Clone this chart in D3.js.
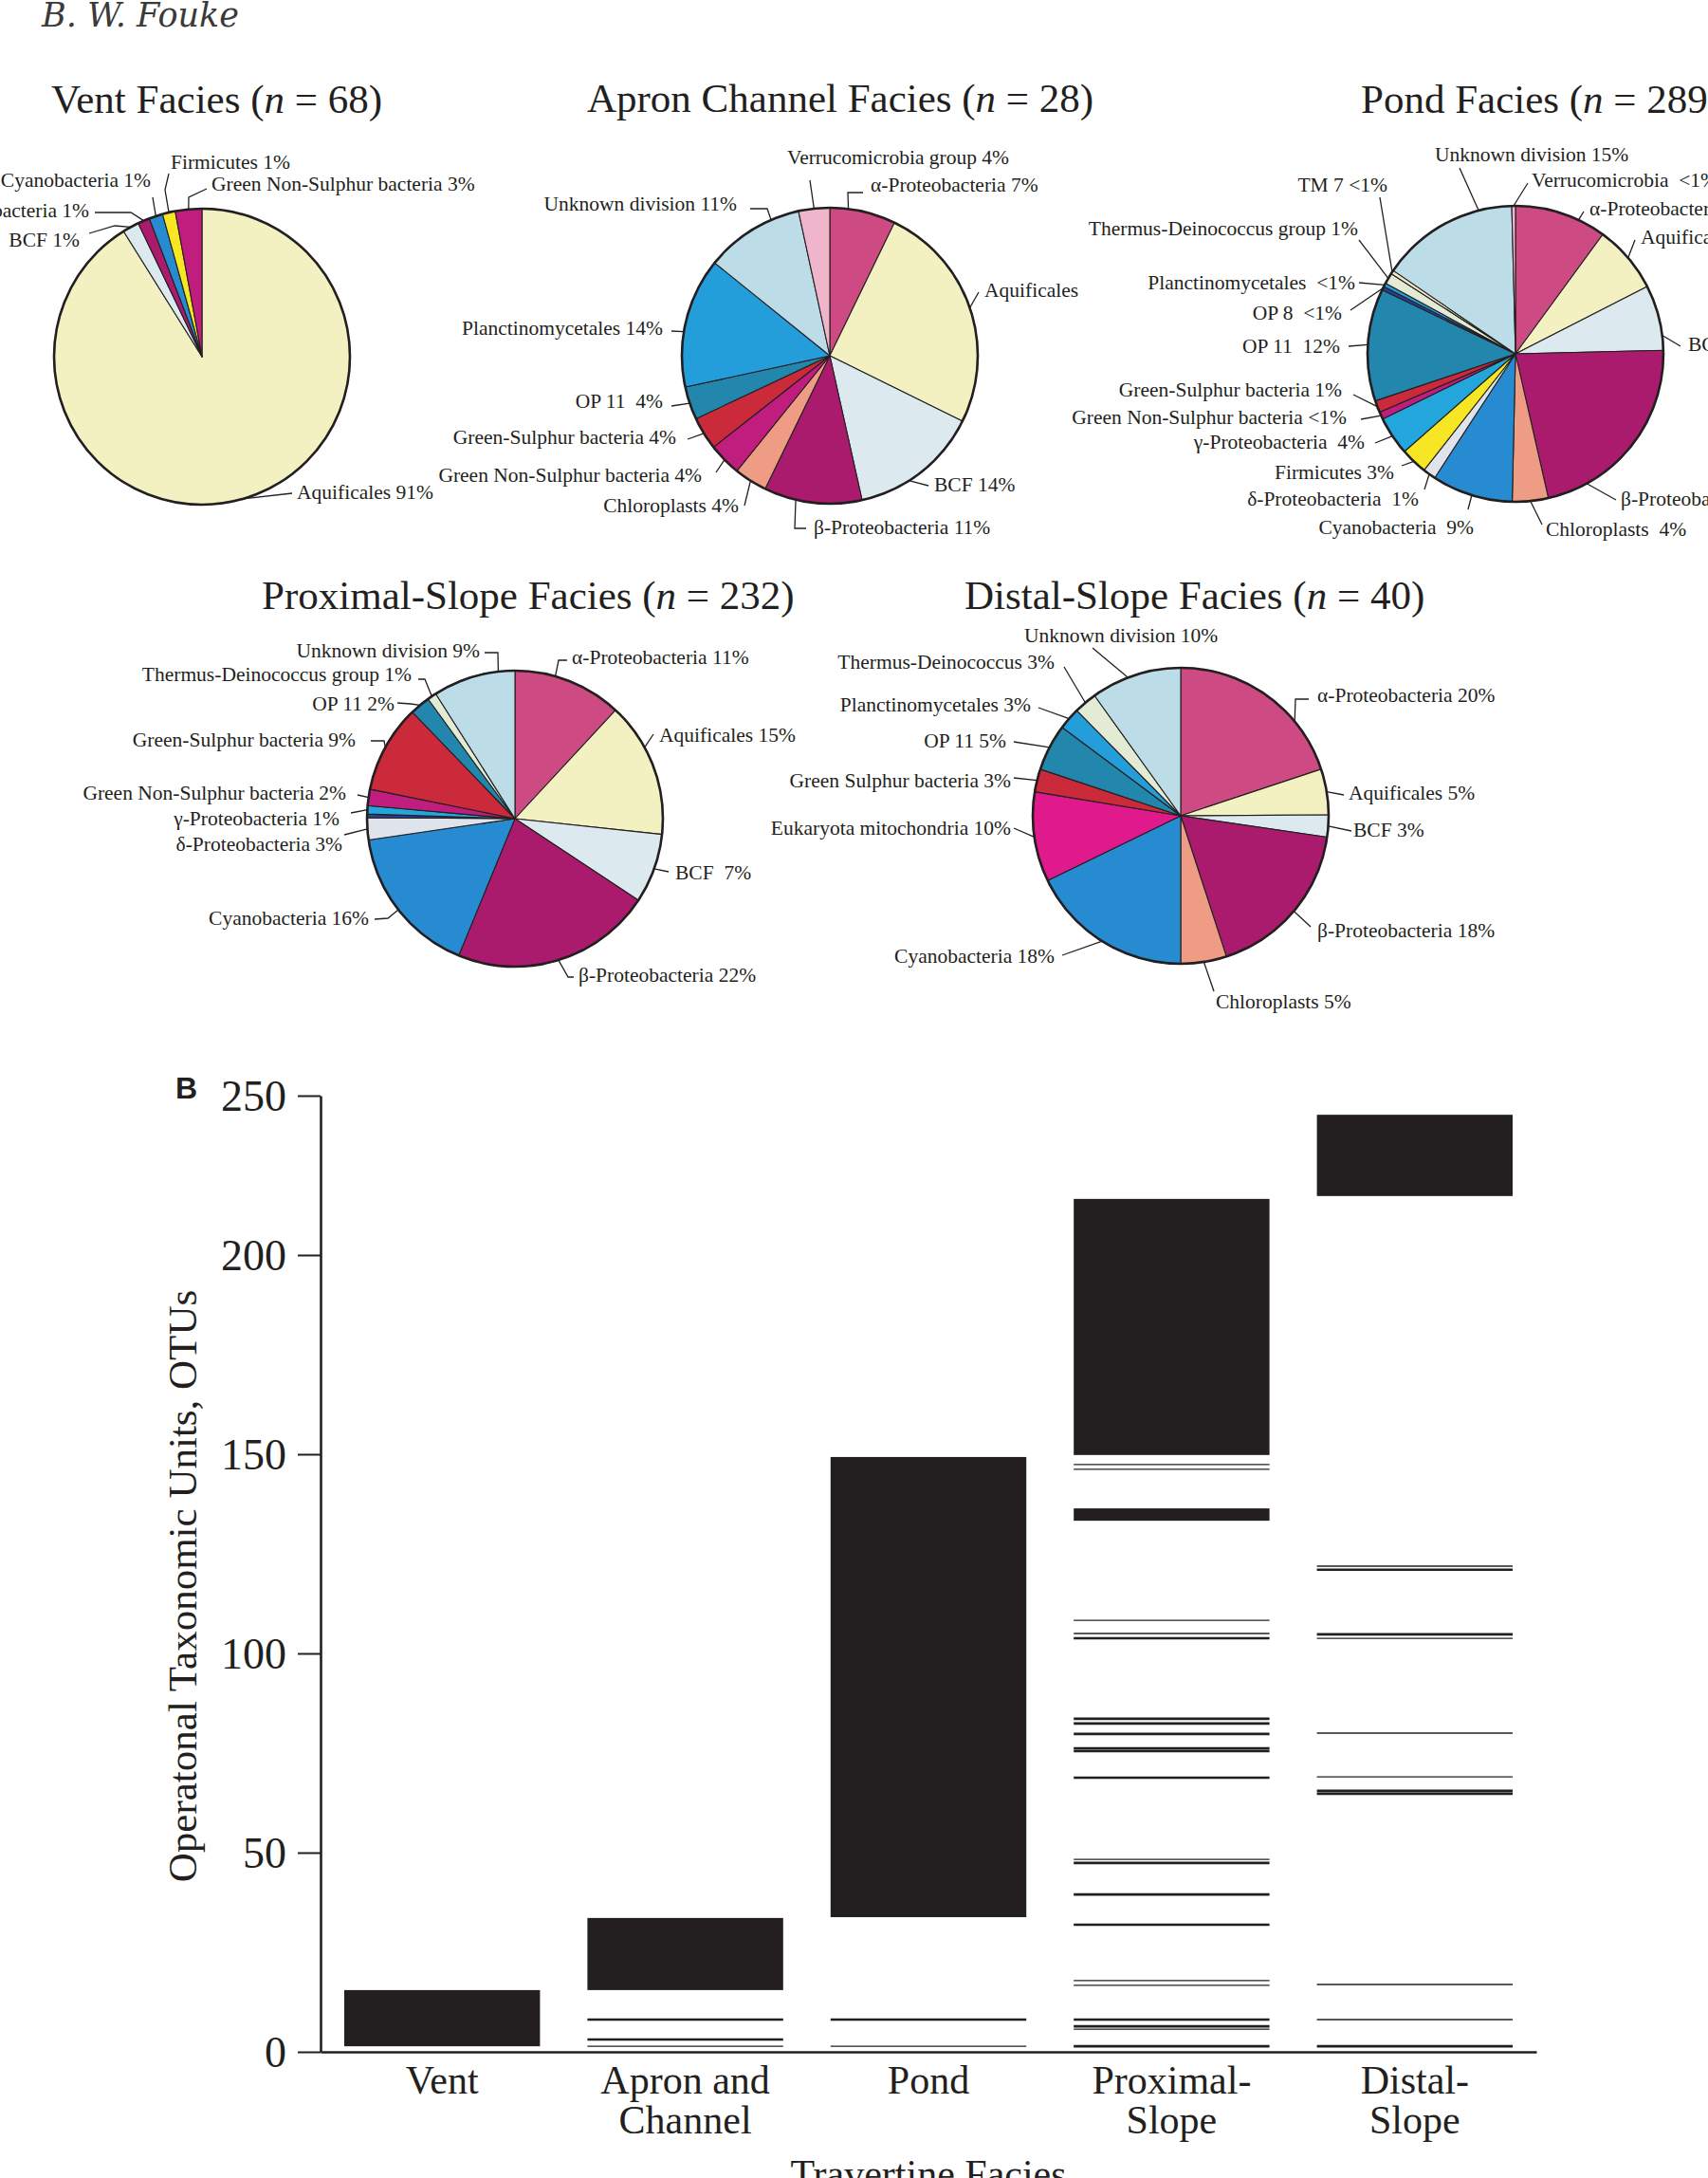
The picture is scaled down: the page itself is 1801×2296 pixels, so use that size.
<!DOCTYPE html>
<html>
<head>
<meta charset="utf-8">
<script src="https://cdn.jsdelivr.net/npm/d3@7"></script>
<style>
  html, body { margin: 0; padding: 0; background: #fff; overflow: hidden; }
  svg { display: block; }
  text { font-family: "Liberation Serif", "Times New Roman", serif; fill: #231f20; }
</style>
</head>
<body>
<svg id="fig" width="1801" height="2296"></svg>
<script>
// ---- Panel A: clone-library composition per facies (slice shares in %, clockwise from 12 o'clock)

const ventTaxa = ['Aquificales', 'BCF', 'β-Proteobacteria', 'Cyanobacteria', 'Firmicutes', 'Green Non-Sulphur'];
const ventShare = [91.1, 1.8, 1.3, 1.5, 1.4, 2.9];
const ventLabels = ['Aquificales 91%', 'BCF 1%', 'β-Proteobacteria 1%', 'Cyanobacteria 1%', 'Firmicutes 1%',
    'Green Non-Sulphur bacteria 3%'];

const apronTaxa = ['α-Proteobacteria', 'Aquificales', 'BCF', 'β-Proteobacteria', 'Chloroplasts', 'Green Non-Sulphur',
    'Green-Sulphur', 'OP 11', 'Planctinomycetales', 'Unknown division', 'Verrucomicrobia'];
const apronShare = [7.2, 25.1, 14.2, 10.7, 3.6, 3.6, 3.6, 3.6, 14.2, 10.8, 3.4];
const apronLabels = ['α-Proteobacteria 7%', 'Aquificales', 'BCF 14%', 'β-Proteobacteria 11%', 'Chloroplasts 4%',
    'Green Non-Sulphur bacteria 4%', 'Green-Sulphur bacteria 4%', 'OP 11\u00a0 4%', 'Planctinomycetales 14%',
    'Unknown division 11%', 'Verrucomicrobia group 4%'];

const pondTaxa = ['α-Proteobacteria', 'Aquificales', 'BCF', 'β-Proteobacteria', 'Chloroplasts', 'Cyanobacteria',
    'δ-Proteobacteria', 'Firmicutes', 'γ-Proteobacteria', 'Green Non-Sulphur', 'Green-Sulphur', 'OP 11', 'OP 8',
    'Planctinomycetales', 'Thermus-Deinococcus', 'TM 7', 'Unknown division', 'Verrucomicrobia'];
const pondShare = [10, 7.4, 7.1, 21.7, 3.9, 8.8, 1.4, 2.9, 4.2, 0.8, 1.3, 12.2, 0.4, 0.4, 1.2, 0.4, 15, 0.4];
const pondLabels = ['α-Proteobacteria 10%', 'Aquificales 7%', 'BCF 7%', 'β-Proteobacteria 22%', 'Chloroplasts\u00a0 4%',
    'Cyanobacteria\u00a0 9%', 'δ-Proteobacteria\u00a0 1%', 'Firmicutes 3%', 'γ-Proteobacteria\u00a0 4%',
    'Green Non-Sulphur bacteria <1%', 'Green-Sulphur bacteria 1%', 'OP 11\u00a0 12%', 'OP 8\u00a0 <1%',
    'Planctinomycetales\u00a0 <1%', 'Thermus-Deinococcus group 1%', 'TM 7 <1%', 'Unknown division 15%',
    'Verrucomicrobia\u00a0 <1%'];

const proximalTaxa = ['α-Proteobacteria', 'Aquificales', 'BCF', 'β-Proteobacteria', 'Cyanobacteria',
    'δ-Proteobacteria', 'OP 8', 'γ-Proteobacteria', 'Green Non-Sulphur', 'Green-Sulphur', 'OP 11',
    'Thermus-Deinococcus', 'Unknown division'];
const proximalShare = [11.9, 14.8, 7.6, 21.9, 16.5, 2.4, 0.4, 0.9, 1.8, 9.6, 2.2, 1.0, 9.0];
const proximalLabels = ['α-Proteobacteria 11%', 'Aquificales 15%', 'BCF\u00a0 7%', 'β-Proteobacteria 22%',
    'Cyanobacteria 16%', 'δ-Proteobacteria 3%', null, 'γ-Proteobacteria 1%', 'Green Non-Sulphur bacteria 2%',
    'Green-Sulphur bacteria 9%', 'OP 11 2%', 'Thermus-Deinococcus group 1%', 'Unknown division 9%'];

const distalTaxa = ['α-Proteobacteria', 'Aquificales', 'BCF', 'β-Proteobacteria', 'Chloroplasts', 'Cyanobacteria',
    'Eukaryota mitochondria', 'Green-Sulphur', 'OP 11', 'Planctinomycetales', 'Thermus-Deinococcus',
    'Unknown division'];
const distalShare = [19.9, 5.0, 2.4, 17.7, 5.0, 17.8, 9.8, 2.5, 5.1, 2.4, 2.5, 9.9];
const distalLabels = ['α-Proteobacteria 20%', 'Aquificales 5%', 'BCF 3%', 'β-Proteobacteria 18%', 'Chloroplasts 5%',
    'Cyanobacteria 18%', 'Eukaryota mitochondria 10%', 'Green Sulphur bacteria 3%', 'OP 11 5%',
    'Planctinomycetales 3%', 'Thermus-Deinococcus 3%', 'Unknown division 10%'];

// ---- Panel B: OTU ranges per facies (OTU axis units)

const facies = ['Vent', 'Apron and Channel', 'Pond', 'Proximal-Slope', 'Distal-Slope'];
const faciesLines = [['Vent'], ['Apron and', 'Channel'], ['Pond'], ['Proximal-', 'Slope'], ['Distal-', 'Slope']];
const yTicks = [0, 50, 100, 150, 200, 250];

const otuBlocks = [
    ['Vent', 1.4, 15.5],
    ['Apron and Channel', 15.5, 33.6],
    ['Pond', 33.8, 149.3],
    ['Proximal-Slope', 133.3, 136.4],
    ['Proximal-Slope', 149.8, 217.6],
    ['Distal-Slope', 218.5, 244.0]
];
const otuThick = [
    ['Apron and Channel', 8.1], ['Apron and Channel', 3.1], ['Pond', 8.1],
    ['Proximal-Slope', 103.8], ['Proximal-Slope', 83.6], ['Proximal-Slope', 82.4], ['Proximal-Slope', 79.8],
    ['Proximal-Slope', 76.2], ['Proximal-Slope', 75.5], ['Proximal-Slope', 68.8], ['Proximal-Slope', 47.4],
    ['Proximal-Slope', 39.5], ['Proximal-Slope', 31.9], ['Proximal-Slope', 8.1], ['Proximal-Slope', 6.4],
    ['Proximal-Slope', 1.4],
    ['Distal-Slope', 121.0], ['Distal-Slope', 104.8], ['Distal-Slope', 65.5], ['Distal-Slope', 64.8],
    ['Distal-Slope', 1.4]
];
const otuThin = [
    ['Apron and Channel', 1.4], ['Pond', 1.4],
    ['Proximal-Slope', 147.4], ['Proximal-Slope', 146.2], ['Proximal-Slope', 108.3], ['Proximal-Slope', 105.0],
    ['Proximal-Slope', 48.3], ['Proximal-Slope', 17.9], ['Proximal-Slope', 16.7], ['Proximal-Slope', 5.7],
    ['Distal-Slope', 121.9], ['Distal-Slope', 103.8], ['Distal-Slope', 80.0], ['Distal-Slope', 69.0],
    ['Distal-Slope', 16.9], ['Distal-Slope', 8.1]
];

// ---- styles

const taxonColor = {
    'α-Proteobacteria': '#cd4a82',
    'Aquificales': '#f3f1c1',
    'BCF': '#dce9ef',
    'β-Proteobacteria': '#ab1b6d',
    'Chloroplasts': '#ee9c83',
    'Cyanobacteria': '#268bd0',
    'δ-Proteobacteria': '#dee3ec',
    'Firmicutes': '#f6e624',
    'γ-Proteobacteria': '#22a6dc',
    'Green Non-Sulphur': '#c01d7e',
    'Green-Sulphur': '#cb2a3b',
    'OP 11': '#2386ad',
    'OP 8': '#2c3f8f',
    'Planctinomycetales': '#249edb',
    'Thermus-Deinococcus': '#e3ebd5',
    'TM 7': '#eee8c6',
    'Unknown division': '#bcdce8',
    'Verrucomicrobia': '#efb5cb',
    'Eukaryota mitochondria': '#e0198d'
};
const INK = '#231f20';
const R = 156;

// label placement (offsets from pie centre), kept apart from the data
const ventPos = [
    { dx: 100, dy: 150, a: 'start', pts: [[95, 144]] },
    { dx: -129, dy: -116, a: 'end', pts: [[-92, -138], [-119, -130]] },
    { dx: -119, dy: -147, a: 'end', pts: [[-75, -152], [-113, -152]] },
    { dx: -54, dy: -179, a: 'end', pts: [[-52, -168]] },
    { dx: -33, dy: -198, a: 'start', pts: [[-39, -176], [-35, -193]] },
    { dx: 10, dy: -175, a: 'start', pts: [[-14, -168], [5, -177]] }
];
const apronPos = [
    { dx: 43, dy: -173, a: 'start', pts: [[19, -172], [35, -172]], at: 2 },
    { dx: 163, dy: -62, a: 'start', pts: [[157, -67]] },
    { dx: 110, dy: 143, a: 'start', pts: [[104, 137]], at: 41 },
    { dx: -17, dy: 188, a: 'start', pts: [[-37, 182], [-25, 182]], at: 53.7 },
    { dx: -96, dy: 165, a: 'end', pts: [[-90, 158]] },
    { dx: -135, dy: 133, a: 'end', pts: [[-120, 123]] },
    { dx: -162, dy: 93, a: 'end', pts: [[-150, 88]] },
    { dx: -176, dy: 55, a: 'end', pts: [[-167, 53]] },
    { dx: -176, dy: -22, a: 'end', pts: [[-167, -26]], at: 77.6 },
    { dx: -98, dy: -153, a: 'end', pts: [[-66, -155], [-84, -155]], at: 93.5 },
    { dx: -45, dy: -202, a: 'start', pts: [[-21, -185]] }
];
const pondPos = [
    { dx: 78, dy: -146, a: 'start', pts: [[72, -150]], at: 7 },
    { dx: 132, dy: -116, a: 'start', pts: [[126, -120]] },
    { dx: 182, dy: -3, a: 'start', pts: [[174, -8]], at: 23 },
    { dx: 111, dy: 160, a: 'start', pts: [[106, 154]], at: 42 },
    { dx: 32, dy: 192, a: 'start', pts: [[28, 180]] },
    { dx: -44, dy: 190, a: 'end', pts: [[-50, 164]] },
    { dx: -102, dy: 160, a: 'end', pts: [[-96, 143]] },
    { dx: -128, dy: 132, a: 'end', pts: [[-120, 118]] },
    { dx: -159, dy: 100, a: 'end', pts: [[-148, 94]] },
    { dx: -178, dy: 74, a: 'end', pts: [[-163, 69]] },
    { dx: -183, dy: 45, a: 'end', pts: [[-171, 43]] },
    { dx: -185, dy: -1, a: 'end', pts: [[-176, -8]] },
    { dx: -183, dy: -36, a: 'end', pts: [[-174, -46]] },
    { dx: -169, dy: -68, a: 'end', pts: [[-165, -75]] },
    { dx: -166, dy: -125, a: 'end', pts: [[-165, -120]] },
    { dx: -135, dy: -171, a: 'end', pts: [[-143, -165]] },
    { dx: -85, dy: -203, a: 'start', pts: [[-59, -196]], at: 96 },
    { dx: 17, dy: -176, a: 'start', pts: [[13, -180]] }
];
const proximalPos = [
    { dx: 60, dy: -163, a: 'start', pts: [[46, -167], [55, -167]], at: 4.4 },
    { dx: 152, dy: -81, a: 'start', pts: [[146, -89]], at: 17 },
    { dx: 169, dy: 64, a: 'start', pts: [[162, 56]] },
    { dx: 67, dy: 172, a: 'start', pts: [[56, 167], [62, 167]] },
    { dx: -154, dy: 112, a: 'end', pts: [[-134, 105], [-148, 106]] },
    { dx: -182, dy: 34, a: 'end', pts: [[-180, 17]] },
    null,
    { dx: -185, dy: 7, a: 'end', pts: [[-173, -6]] },
    { dx: -178, dy: -20, a: 'end', pts: [[-166, -25]] },
    { dx: -168, dy: -76, a: 'end', pts: [[-138, -82], [-152, -82]] },
    { dx: -127, dy: -114, a: 'end', pts: [[-110, -121], [-124, -122]] },
    { dx: -109, dy: -145, a: 'end', pts: [[-95, -147], [-102, -147]] },
    { dx: -37, dy: -170, a: 'end', pts: [[-18, -175], [-32, -175]], at: 98.2 }
];
const distalPos = [
    { dx: 144, dy: -120, a: 'start', pts: [[121, -123], [135, -123]], at: 14 },
    { dx: 177, dy: -17, a: 'start', pts: [[172, -22]] },
    { dx: 182, dy: 22, a: 'start', pts: [[180, 16]] },
    { dx: 144, dy: 128, a: 'start', pts: [[137, 117]] },
    { dx: 37, dy: 203, a: 'start', pts: [[35, 185]] },
    { dx: -133, dy: 155, a: 'end', pts: [[-125, 147]] },
    { dx: -179, dy: 20, a: 'end', pts: [[-176, 13]] },
    { dx: -179, dy: -30, a: 'end', pts: [[-176, -40]] },
    { dx: -184, dy: -72, a: 'end', pts: [[-176, -78]] },
    { dx: -158, dy: -110, a: 'end', pts: [[-150, -114]] },
    { dx: -133, dy: -155, a: 'end', pts: [[-123, -157]] },
    { dx: -165, dy: -183, a: 'start', pts: [[-93, -177]], at: 94.2 }
];

const pies = [
    { name: 'Vent Facies', n: 68, cx: 213, cy: 376, tx: 54, ty: 119,
      taxa: ventTaxa, share: ventShare, labels: ventLabels, pos: ventPos },
    { name: 'Apron Channel Facies', n: 28, cx: 875, cy: 375, tx: 619, ty: 118,
      taxa: apronTaxa, share: apronShare, labels: apronLabels, pos: apronPos },
    { name: 'Pond Facies', n: 289, cx: 1598, cy: 373, tx: 1435, ty: 119,
      taxa: pondTaxa, share: pondShare, labels: pondLabels, pos: pondPos },
    { name: 'Proximal-Slope Facies', n: 232, cx: 543, cy: 863, tx: 276, ty: 642,
      taxa: proximalTaxa, share: proximalShare, labels: proximalLabels, pos: proximalPos },
    { name: 'Distal-Slope Facies', n: 40, cx: 1245, cy: 860, tx: 1017, ty: 642,
      taxa: distalTaxa, share: distalShare, labels: distalLabels, pos: distalPos }
];

const svg = d3.select('#fig');

// running head
svg.append('text')
    .attr('x', 44)
    .attr('y', 28)
    .style('font-family', '"DejaVu Serif", serif')
    .attr('font-style', 'italic')
    .attr('font-size', 35)
    .style('fill', '#3a3a3a')
    .text('B. W. Fouke');

const arc = d3.arc().innerRadius(0).outerRadius(R);
const pie = d3.pie().sort(null).value(d => d.v);

function drawPie(p) {
    const data = p.taxa.map((t, i) => ({ taxon: t, v: p.share[i], label: p.labels[i], pos: p.pos[i] }));
    const arcs = pie(data);

    // title
    const title = svg.append('text')
        .attr('x', p.tx)
        .attr('y', p.ty)
        .attr('font-size', 43);
    title.append('tspan').text(p.name + ' (');
    title.append('tspan').attr('font-style', 'italic').text('n');
    title.append('tspan').text(' = ' + p.n + ')');

    const g = svg.append('g').attr('transform', `translate(${p.cx},${p.cy})`);

    g.selectAll('path.slice')
        .data(arcs)
        .join('path')
        .attr('class', 'slice')
        .attr('d', arc)
        .attr('fill', d => taxonColor[d.data.taxon])
        .attr('stroke', INK)
        .attr('stroke-width', 1.1)
        .attr('stroke-linejoin', 'round');

    g.append('circle')
        .attr('r', R)
        .attr('fill', 'none')
        .attr('stroke', INK)
        .attr('stroke-width', 2.6);

    // leaders + labels
    arcs.filter(d => d.data.label).forEach(d => {
        const pos = d.data.pos;
        const ang = pos.at != null ? pos.at / 100 * 2 * Math.PI : (d.startAngle + d.endAngle) / 2;
        const pts = [[R * Math.sin(ang), -R * Math.cos(ang)]].concat(pos.pts);
        g.append('path')
            .attr('d', d3.line()(pts))
            .attr('fill', 'none')
            .attr('stroke', INK)
            .attr('stroke-width', 1.3);
        g.append('text')
            .attr('x', pos.dx)
            .attr('y', pos.dy)
            .attr('text-anchor', pos.a)
            .attr('font-size', 21.5)
            .text(d.data.label);
    });
}

pies.forEach(drawPie);

// ---- Panel B

const x = d3.scaleBand()
    .domain(facies)
    .range([338, 1620])
    .paddingInner(0.195)
    .paddingOuter(0.0975);

// the printed axis squeezes the 200-250 interval
const y = d3.scaleLinear()
    .domain([0, 200, 250])
    .range([2163, 1323, 1155]);

const plot = svg.append('g');

plot.selectAll('rect.block')
    .data(otuBlocks)
    .join('rect')
    .attr('class', 'block')
    .attr('x', d => x(d[0]))
    .attr('width', x.bandwidth())
    .attr('y', d => y(d[2]))
    .attr('height', d => y(d[1]) - y(d[2]))
    .attr('fill', INK);

plot.selectAll('line.thick')
    .data(otuThick)
    .join('line')
    .attr('class', 'thick')
    .attr('x1', d => x(d[0]))
    .attr('x2', d => x(d[0]) + x.bandwidth())
    .attr('y1', d => y(d[1]))
    .attr('y2', d => y(d[1]))
    .attr('stroke', INK)
    .attr('stroke-width', 2.6);

plot.selectAll('line.thin')
    .data(otuThin)
    .join('line')
    .attr('class', 'thin')
    .attr('x1', d => x(d[0]))
    .attr('x2', d => x(d[0]) + x.bandwidth())
    .attr('y1', d => y(d[1]))
    .attr('y2', d => y(d[1]))
    .attr('stroke', INK)
    .attr('stroke-width', 1.3);

// x axis (baseline only) and multi-line category labels
const xAxisG = svg.append('g')
    .attr('transform', `translate(0,${y(0)})`)
    .call(d3.axisBottom(x).tickSize(0).tickSizeOuter(0).tickFormat(''));
xAxisG.select('.domain').attr('stroke', INK).attr('stroke-width', 2.6);

facies.forEach((f, i) => {
    const t = svg.append('text')
        .attr('text-anchor', 'middle')
        .attr('font-size', 42);
    faciesLines[i].forEach((line, j) => {
        t.append('tspan')
            .attr('x', x(f) + x.bandwidth() / 2)
            .attr('y', 2207 + j * 42)
            .text(line);
    });
});

svg.append('text')
    .attr('x', (338 + 1620) / 2)
    .attr('y', 2306)
    .attr('text-anchor', 'middle')
    .attr('font-size', 42)
    .text('Travertine Facies');

// y axis
const yAxisG = svg.append('g')
    .attr('transform', 'translate(338,0)')
    .call(d3.axisLeft(y).tickValues(yTicks).tickSize(24).tickSizeOuter(0).tickPadding(12));
yAxisG.select('.domain').attr('stroke', INK).attr('stroke-width', 2.6);
yAxisG.selectAll('.tick line').attr('stroke', INK).attr('stroke-width', 2);
yAxisG.selectAll('.tick text')
    .attr('font-family', '"Liberation Serif", serif')
    .attr('font-size', 46)
    .attr('dy', '0.34em')
    .style('fill', INK);

svg.append('text')
    .attr('transform', 'translate(207,1672) rotate(-90)')
    .attr('text-anchor', 'middle')
    .attr('font-size', 43)
    .text('Operatonal Taxonomic Units, OTUs');

svg.append('text')
    .attr('x', 185)
    .attr('y', 1158)
    .style('font-family', '"Liberation Sans", Arial, sans-serif')
    .attr('font-weight', 'bold')
    .attr('font-size', 32)
    .text('B');
</script>
</body>
</html>
